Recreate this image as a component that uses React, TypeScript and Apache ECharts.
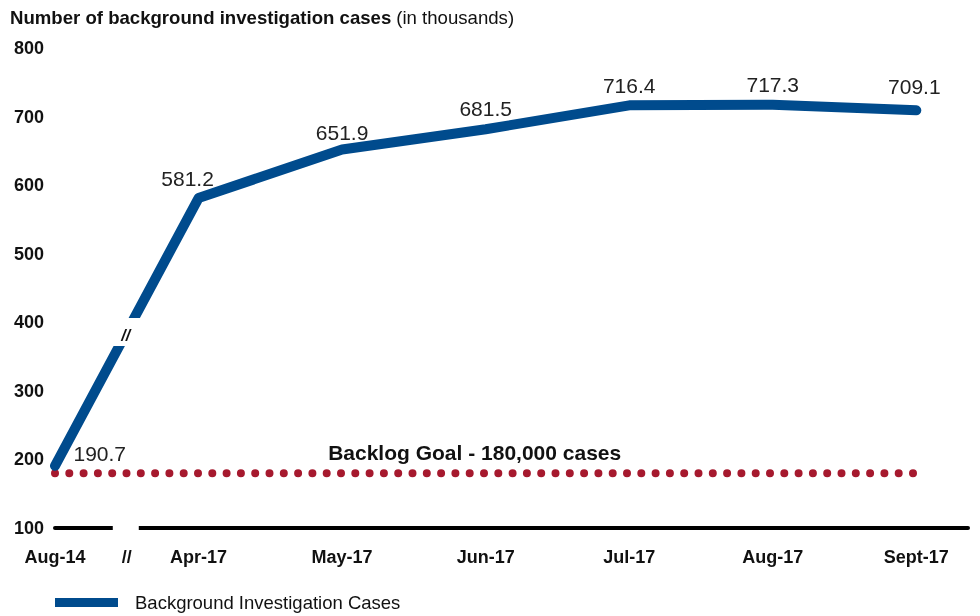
import React, { useEffect, useRef } from "react";
import * as echarts from "echarts";

const categories = ["Aug-14", "Apr-17", "May-17", "Jun-17", "Jul-17", "Aug-17", "Sept-17"];
const caseValues = [190.7, 581.2, 651.9, 681.5, 716.4, 717.3, 709.1];
const goalValue = 180;
const breakLabel = "//";
const seriesName = "Background Investigation Cases";
const goalLabel = "Backlog Goal - 180,000 cases";
const titleBold = "Number of background investigation cases";
const titleNormal = "(in thousands)";

const FONT = "'Liberation Sans', Arial, Helvetica, sans-serif";
const BLUE = "#004b8d";
const RED = "#a6192e";

export default function App() {
  const ref = useRef<HTMLDivElement>(null);
  useEffect(() => {
    if (!ref.current) return;
    const chart = echarts.init(ref.current, undefined, { renderer: "svg" });
    const labelTweaks: Record<number, any> = {
      0: { position: "right", distance: 18, offset: [0, -12] },
      1: { position: "top", distance: 9, offset: [-11, 0] },
      2: { position: "top", distance: 6, offset: [0, 0] },
      3: { position: "top", distance: 10, offset: [0, 0] },
      6: { position: "top", distance: 13, offset: [-2, 0] },
    };
    const option: any = {
      animation: false,
      textStyle: { fontFamily: FONT },
      title: {
        left: 10,
        top: 8,
        padding: 0,
        text: `{b|${titleBold}} {n|${titleNormal}}`,
        textStyle: {
          rich: {
            b: { fontFamily: FONT, fontWeight: "bold", fontSize: 18.6, color: "#111" },
            n: { fontFamily: FONT, fontWeight: "normal", fontSize: 18.6, color: "#111" },
          },
        },
      },
      grid: { left: 55, right: 12, top: 48, bottom: 88, containLabel: false },
      legend: {
        data: [seriesName],
        left: 55,
        top: 593,
        padding: 0,
        icon: "rect",
        itemWidth: 63,
        itemHeight: 9,
        itemGap: 12,
        textStyle: { fontFamily: FONT, fontSize: 18.5, color: "#111", padding: [0, 0, 0, 12] },
      },
      xAxis: {
        type: "value",
        min: 0,
        max: 6.36,
        interval: 0.5,
        axisLine: { show: true, onZero: false, lineStyle: { color: "#000", width: 4 } },
        axisTick: { show: false },
        splitLine: { show: false },
        axisLabel: {
          margin: 20,
          fontFamily: FONT,
          fontWeight: "bold",
          fontSize: 18,
          color: "#111",
          showMaxLabel: false,
          formatter: (v: number) => {
            if (Math.abs(v - 0.5) < 1e-6) return breakLabel;
            if (Math.abs(v - Math.round(v)) < 1e-6 && categories[Math.round(v)]) return categories[Math.round(v)];
            return "";
          },
        },
      },
      yAxis: {
        type: "value",
        min: 100,
        max: 800,
        interval: 100,
        axisLine: { show: false },
        axisTick: { show: false },
        splitLine: { show: false },
        axisLabel: { margin: 11, fontFamily: FONT, fontWeight: "bold", fontSize: 18, color: "#111" },
      },
      series: [
        {
          name: "goal",
          type: "line",
          z: 1,
          symbol: "none",
          silent: true,
          data: categories.map((_, i) =>
            i === 3
              ? {
                  value: [i, goalValue],
                  symbol: "circle",
                  symbolSize: 0.1,
                  label: {
                    show: true,
                    position: "top",
                    distance: 10,
                    offset: [-11, 0],
                    formatter: goalLabel,
                    fontFamily: FONT,
                    fontWeight: "bold",
                    fontSize: 21,
                    color: "#111",
                  },
                }
              : [i, goalValue]
          ),
          lineStyle: { color: RED, width: 8, type: [0, 14.3], cap: "round" },
          itemStyle: { color: RED },
        },
        {
          name: seriesName,
          type: "line",
          z: 3,
          symbol: "circle",
          symbolSize: 1,
          showSymbol: true,
          data: caseValues.map((v, i) => ({
            value: [i, v],
            label: labelTweaks[i] ? { ...labelTweaks[i] } : undefined,
          })),
          itemStyle: { color: BLUE },
          lineStyle: { color: BLUE, width: 10, cap: "round", join: "round" },
          label: {
            show: true,
            position: "top",
            distance: 9,
            fontFamily: FONT,
            fontSize: 21,
            color: "#222",
            formatter: (p: any) => p.value[1].toFixed(1),
          },
        },
      ],
    };
    chart.setOption(option);

    const p0 = chart.convertToPixel({ gridIndex: 0 }, [0, caseValues[0]]) as number[];
    const p1 = chart.convertToPixel({ gridIndex: 0 }, [1, caseValues[1]]) as number[];
    const mx = (p0[0] + p1[0]) / 2;
    const my = (p0[1] + p1[1]) / 2;
    const axisY = (chart.convertToPixel({ gridIndex: 0 }, [0, 100]) as number[])[1];
    const gapX = (chart.convertToPixel({ gridIndex: 0 }, [0.5, 100]) as number[])[0];

    chart.setOption({
      graphic: [
        {
          type: "rect",
          z: 100,
          shape: { x: mx - 24, y: my - 14, width: 48, height: 28 },
          style: { fill: "#fff" },
        },
        {
          type: "text",
          z: 101,
          x: mx - 1,
          y: my + 4,
          style: {
            text: breakLabel,
            fontFamily: FONT,
            fontStyle: "italic",
            fontWeight: "bold",
            fontSize: 16,
            fill: "#111",
            align: "center",
            verticalAlign: "middle",
          },
        },
        {
          type: "rect",
          z: 100,
          shape: { x: gapX - 14, y: axisY - 4, width: 26, height: 8 },
          style: { fill: "#fff" },
        },
      ],
    });

    return () => chart.dispose();
  }, []);
  return <div ref={ref} style={{ position: "fixed", left: 0, top: 0, width: 980, height: 616 }} />;
}
